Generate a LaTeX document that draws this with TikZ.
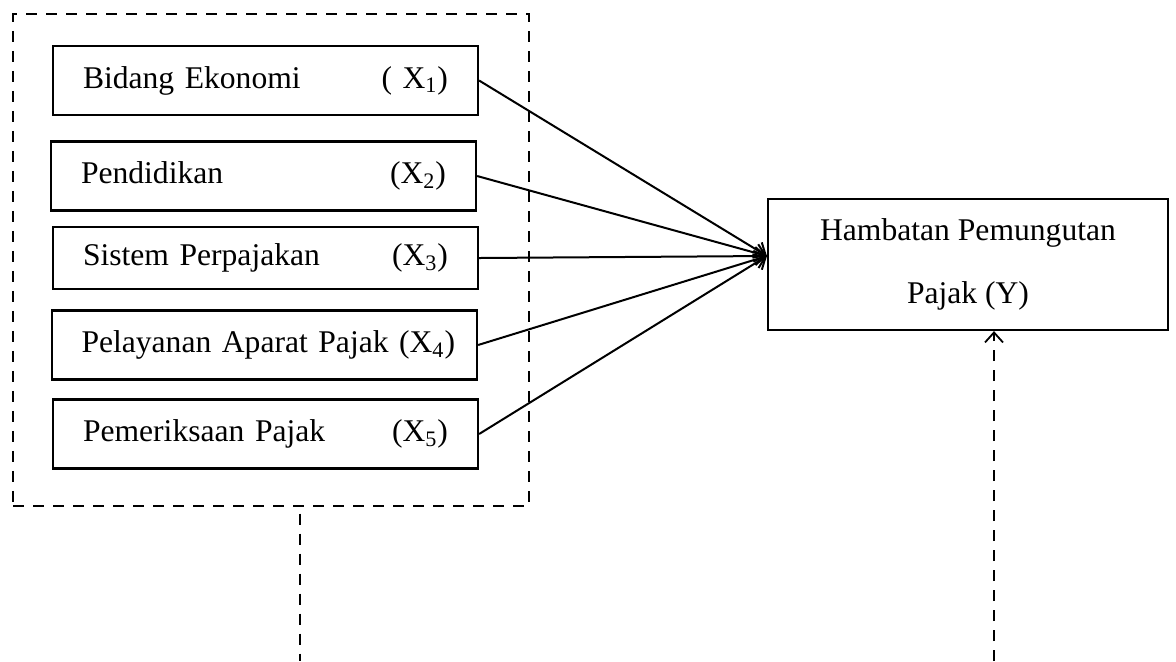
\documentclass[tikz,border=0pt]{standalone}
\usepackage{fontspec}
\setmainfont{Liberation Serif}
\usetikzlibrary{positioning, arrows.meta}
\tikzset{Var style/.style={line width=1.1pt, draw=black, rectangle, align=left, text width=182.5pt, inner xsep=15pt, minimum height=34.5pt, font=\fontsize{15.8}{19}\selectfont}}
\tikzset{Target style/.style={line width=1.1pt, draw=black, rectangle, align=center, minimum width=200pt, minimum height=65.5pt, font=\fontsize{15.8}{31.5}\selectfont}}
\tikzset{Dash style/.style={line width=0.9pt, dash pattern=on 5.5pt off 4.5pt}}
\tikzset{
	x=0.5pt, y=-0.5pt, % satu satuan = satu piksel, sumbu y ke bawah
	>={Straight Barb[length=5pt, width=9pt]}, % ujung panah terbuka
}

\begin{document}
\begin{tikzpicture}
        \useasboundingbox (0,0) rectangle (1176,661);

        \node[Dash style, draw=black, minimum width=258pt, minimum height=245.75pt] (faktor) at (271,260) {};

        \node[Var style] (bidang_ekonomi) at (265.5,80.5) {Bidang Ekonomi\hfill( X\textsubscript{1})};
        \node[Var style] (pendidikan) at (263.5,176) {Pendidikan\hfill(X\textsubscript{2})};
        \node[Var style, minimum height=31pt] (sistem_perpajakan) at (265.5,258) {Sistem Perpajakan\hfill(X\textsubscript{3})};
        \node[Var style, text width=198pt, inner xsep=7.25pt] (pelayanan_aparat) at (264.5,345) {\hspace{7.5pt}Pelayanan Aparat Pajak (X\textsubscript{4})};
        \node[Var style] (pemeriksaan_pajak) at (265.5,434) {Pemeriksaan Pajak\hfill(X\textsubscript{5})};

        \node[Target style] (hambatan) at (968,264.5) {Hambatan Pemungutan\\Pajak (Y)};
        \coordinate (masuk) at ([yshift=4.25pt]hambatan.west);

        \draw[->, line width=1pt] (bidang_ekonomi.east) -- (masuk);
        \draw[->, line width=1pt] (pendidikan.east) -- (masuk);
        \draw[->, line width=1pt] (sistem_perpajakan.east) -- (masuk);
        \draw[->, line width=1pt] (pelayanan_aparat.east) -- (masuk);
        \draw[->, line width=1pt] (pemeriksaan_pajak.east) -- (masuk);

        \coordinate (garis_bawah) at (300,661);
        \coordinate (panah_bawah) at (994,661);
        \draw[Dash style] ([yshift=-3.5pt]faktor.south -| garis_bawah) -- (garis_bawah);
        \draw[Dash style, ->] (panah_bawah) -- (panah_bawah |- hambatan.south);
\end{tikzpicture}
\end{document}
